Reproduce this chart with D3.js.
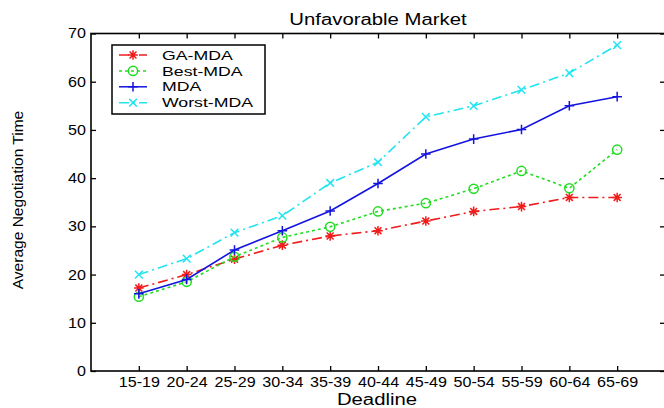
<!DOCTYPE html>
<html>
<head>
<meta charset="utf-8">
<script src="https://cdn.jsdelivr.net/npm/d3@7"></script>
<style>
    body { margin: 0; background: #fff; }
    svg { display: block; font-family: "Liberation Sans", Arial, sans-serif; }
</style>
</head>
<body>
<div id="chart"></div>
<script>
'use strict'

////////////////////////////////////
//////////////// data //////////////
////////////////////////////////////

const categories = ['15-19', '20-24', '25-29', '30-34', '35-39', '40-44', '45-49', '50-54', '55-59', '60-64', '65-69']
const gaMda    = [17.2, 20.0, 23.2, 26.1, 28.0, 29.1, 31.1, 33.1, 34.1, 36.0, 36.0]
const bestMda  = [15.4, 18.5, 23.7, 27.7, 29.9, 33.1, 34.8, 37.8, 41.5, 37.9, 45.9]
const mda      = [16.0, 19.0, 25.1, 29.1, 33.2, 38.9, 45.0, 48.1, 50.1, 55.0, 56.9]
const worstMda = [20.0, 23.3, 28.7, 32.2, 39.0, 43.3, 52.7, 55.0, 58.3, 61.8, 67.6]
const yTicks = [0, 10, 20, 30, 40, 50, 60, 70]

const series = [
    {name: 'GA-MDA',    values: gaMda,    color: '#f01c1c', dash: '10,4,2,4', marker: 'star'},
    {name: 'Best-MDA',  values: bestMda,  color: '#22dd22', dash: '3,3',      marker: 'circle'},
    {name: 'MDA',       values: mda,      color: '#1414e0', dash: null,       marker: 'plus'},
    {name: 'Worst-MDA', values: worstMda, color: '#22e4f0', dash: '10,4,2,4', marker: 'cross'}
]

////////////////////////////////////
//////////// svg setup /////////////
////////////////////////////////////

const svgWidth = 664
const svgHeight = 408
const margin = {left: 91, right: -1, top: 33.5, bottom: 37}
const width = svgWidth - margin.left - margin.right
const height = svgHeight - margin.top - margin.bottom

const svg = d3.select('#chart')
    .append('svg')
    .attr('width', svgWidth)
    .attr('height', svgHeight)

const g = svg.append('g')
    .attr('transform', 'translate(' + margin.left + ',' + margin.top + ')')

// stretch text a bit wider, the original glyphs are broader than Arial
function stretch(sel, k) {
    sel.each(function () {
        const n = this.getComputedTextLength()
        d3.select(this).attr('textLength', n * k).attr('lengthAdjust', 'spacingAndGlyphs')
    })
}

////////////////////////////////////
////////////// scales //////////////
////////////////////////////////////

const xScale = d3.scalePoint()
    .domain(categories)
    .range([0, width])
    .padding(1)

const yScale = d3.scaleLinear()
    .domain([0, 70])
    .range([height, 0])

////////////////////////////////////
/////////////// axes ///////////////
////////////////////////////////////

const xAxis = g.append('g')
    .attr('transform', 'translate(0,' + height + ')')
    .call(d3.axisBottom(xScale).tickSizeInner(-5).tickSizeOuter(0).tickPadding(6))

const yAxis = g.append('g')
    .call(d3.axisLeft(yScale).tickValues(yTicks).tickSizeInner(-5).tickSizeOuter(0).tickPadding(5))

g.append('g')
    .call(d3.axisTop(xScale).tickSizeInner(-5).tickSizeOuter(0).tickFormat(''))

g.append('g')
    .attr('transform', 'translate(' + width + ',0)')
    .call(d3.axisRight(yScale).tickValues(yTicks).tickSizeInner(-5).tickSizeOuter(0).tickFormat(''))

g.selectAll('.domain').remove()
g.selectAll('.tick line').attr('stroke', '#000').attr('stroke-width', 1.3)
g.selectAll('.tick text').attr('fill', '#000').style('font-size', '14px')
    .style('font-family', '"Liberation Sans", Arial, sans-serif')
stretch(xAxis.selectAll('.tick text'), 1.15)
stretch(yAxis.selectAll('.tick text'), 1.15)

g.append('rect')
    .attr('width', width)
    .attr('height', height)
    .attr('fill', 'none')
    .attr('stroke', '#000')
    .attr('stroke-width', 1.6)

////////////////////////////////////
////////////// lines ///////////////
////////////////////////////////////

const line = d3.line()
    .x((d, i) => xScale(categories[i]))
    .y(d => yScale(d))

function drawMarker(sel, type, color) {
    const r = type === 'circle' ? 4.6 : 4.8
    if (type === 'circle') {
        sel.append('circle').attr('r', r).attr('fill', 'none').attr('stroke', color).attr('stroke-width', 1.5)
        return
    }
    let path = ''
    if (type === 'plus' || type === 'star') path += `M${-r},0H${r}M0,${-r}V${r}`
    if (type === 'cross' || type === 'star') {
        const c = type === 'star' ? r * 0.72 : r * 0.8
        path += `M${-c},${-c}L${c},${c}M${-c},${c}L${c},${-c}`
    }
    sel.append('path').attr('d', path).attr('fill', 'none').attr('stroke', color).attr('stroke-width', 1.5)
}

series.forEach(s => {
    g.append('path')
        .datum(s.values)
        .attr('d', line)
        .attr('fill', 'none')
        .attr('stroke', s.color)
        .attr('stroke-width', 1.6)
        .attr('stroke-dasharray', s.dash)

    g.selectAll(null)
        .data(s.values)
        .join('g')
        .attr('transform', (d, i) => 'translate(' + xScale(categories[i]) + ',' + yScale(d) + ')')
        .each(function () { drawMarker(d3.select(this), s.marker, s.color) })
})

////////////////////////////////////
////////////// legend //////////////
////////////////////////////////////

const legend = svg.append('g').attr('transform', 'translate(112,45)')

legend.append('rect')
    .attr('width', 153)
    .attr('height', 69)
    .attr('fill', '#fff')
    .attr('stroke', '#000')
    .attr('stroke-width', 1.5)

const rows = legend.selectAll('.row')
    .data(series)
    .join('g')
    .attr('class', 'row')
    .attr('transform', (d, i) => 'translate(0,' + (10 + i * 15.9) + ')')

rows.append('line')
    .attr('x1', 7).attr('x2', 35)
    .attr('stroke', d => d.color)
    .attr('stroke-width', 1.5)
    .attr('stroke-dasharray', d => d.dash)

rows.each(function (d) {
    const m = d3.select(this).append('g').attr('transform', 'translate(21,0)')
    drawMarker(m, d.marker, d.color)
})

const legendText = rows.append('text')
    .attr('x', 50)
    .attr('dy', '0.36em')
    .style('font-size', '13px')
    .text(d => d.name)
stretch(legendText, 1.36)

////////////////////////////////////
////////////// labels //////////////
////////////////////////////////////

const title = svg.append('text')
    .attr('x', margin.left + width / 2)
    .attr('y', 25)
    .attr('text-anchor', 'middle')
    .style('font-size', '16px')
    .text('Unfavorable Market')
stretch(title, 1.27)

const xLabel = svg.append('text')
    .attr('x', 377)
    .attr('y', 404.5)
    .attr('text-anchor', 'middle')
    .style('font-size', '16px')
    .text('Deadline')
stretch(xLabel, 1.27)

const yLabel = svg.append('text')
    .attr('transform', 'translate(23,200) rotate(-90)')
    .attr('text-anchor', 'middle')
    .style('font-size', '14px')
    .text('Average Negotiation Time')
stretch(yLabel, 1.11)
</script>
</body>
</html>
